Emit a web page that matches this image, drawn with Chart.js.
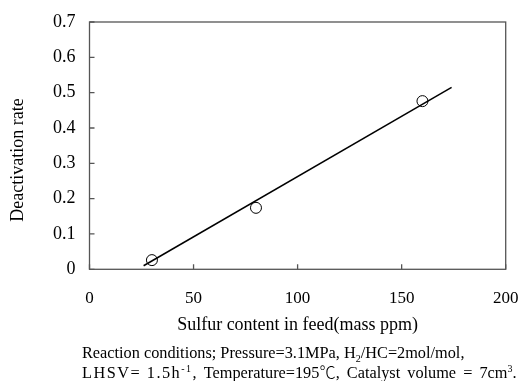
<!DOCTYPE html>
<html>
<head>
<meta charset="utf-8">
<script src="https://cdn.jsdelivr.net/npm/chart.js@4"></script>
<style>
  html, body { margin: 0; padding: 0; background: #fff; }
  #wrap { position: relative; width: 521px; height: 381px; }
  #cap { position: absolute; left: 82px; top: 343px; font: 16.3px "Liberation Serif", serif; line-height: 19px; color: #000; white-space: nowrap; }
  #cap sub, #cap sup { font-size: 10px; line-height: 0; }
  #cap .cjk { font-family: "Noto Sans CJK JP", serif; font-weight: 300; }
  #cap .wide { letter-spacing: 1.5px; }
  #cap .rest { word-spacing: 3px; }
</style>
</head>
<body>
<div id="wrap">
  <canvas id="c" width="521" height="381"></canvas>
  <div id="cap">Reaction conditions; Pressure=3.1MPa, H<sub>2</sub>/HC=2mol/mol,<br><span class="wide">LHSV= 1.5h<sup>-1</sup>, </span><span class="rest">Temperature=195<span class="cjk">℃</span>, Catalyst volume = 7cm<sup>3</sup>.</span></div>
</div>
<script>
const sulfur = [30, 80, 160];
const rate = [0.026, 0.174, 0.476];
const fitX = [26, 174];
const fitY = [0.01, 0.515];
const xTicks = [0, 50, 100, 150, 200];
const yTicks = [0, 0.1, 0.2, 0.3, 0.4, 0.5, 0.6, 0.7];

const serif = '"Liberation Serif", "Times New Roman", serif';

// frame, inward ticks and rotated y title
const framePlugin = {
  id: 'frame',
  afterDraw(chart) {
    const { ctx, chartArea: a, scales } = chart;
    ctx.save();
    ctx.strokeStyle = '#555';
    ctx.lineWidth = 1.3;
    ctx.strokeRect(a.left, a.top, a.right - a.left, a.bottom - a.top);
    ctx.beginPath();
    yTicks.forEach(v => {
      const y = scales.y.getPixelForValue(v);
      ctx.moveTo(a.left, y);
      ctx.lineTo(a.left + 5, y);
    });
    xTicks.forEach(v => {
      const x = scales.x.getPixelForValue(v);
      ctx.moveTo(x, a.bottom);
      ctx.lineTo(x, a.bottom - 5);
    });
    ctx.stroke();
    ctx.fillStyle = '#000';
    ctx.font = '18px ' + serif;
    ctx.textAlign = 'center';
    ctx.textBaseline = 'middle';
    ctx.translate(18, 160);
    ctx.rotate(-Math.PI / 2);
    ctx.fillText('Deactivation rate', 0, 0);
    ctx.restore();
  }
};

new Chart(document.getElementById('c'), {
  type: 'scatter',
  data: {
    datasets: [
      {
        label: 'measured',
        data: sulfur.map((x, i) => ({ x, y: rate[i] })),
        pointStyle: 'circle',
        pointRadius: 5.5,
        pointBorderWidth: 1,
        pointBorderColor: '#000',
        pointBackgroundColor: 'rgba(255,255,255,0)',
        showLine: false
      },
      {
        label: 'fit',
        data: fitX.map((x, i) => ({ x, y: fitY[i] })),
        showLine: true,
        borderColor: '#000',
        borderWidth: 1.5,
        pointRadius: 0
      }
    ]
  },
  options: {
    responsive: false,
    animation: false,
    layout: { padding: { left: 0, right: 15.3, top: 22, bottom: 0 } },
    plugins: { legend: { display: false }, tooltip: { enabled: false } },
    scales: {
      x: {
        type: 'linear',
        min: 0, max: 200,
        afterBuildTicks: s => { s.ticks = xTicks.map(v => ({ value: v })); },
        afterFit: s => { s.height = 111.7; s.paddingLeft = 0; s.paddingRight = 0; },
        grid: { display: false, drawTicks: false },
        border: { display: false },
        ticks: { color: '#000', font: { family: serif, size: 17 }, padding: 19, maxRotation: 0 },
        title: { display: true, text: 'Sulfur content in feed(mass ppm)', color: '#000', font: { family: serif, size: 18 }, padding: { top: 0, bottom: 45 } }
      },
      y: {
        min: 0, max: 0.7,
        afterBuildTicks: s => { s.ticks = yTicks.map(v => ({ value: v })); },
        afterFit: s => { s.width = 89.5; s.paddingTop = 0; s.paddingBottom = 0; },
        grid: { display: false, drawTicks: false },
        border: { display: false },
        ticks: { color: '#000', font: { family: serif, size: 18 }, padding: 14, callback: v => v === 0 ? '0' : v.toFixed(1) }
      }
    }
  },
  plugins: [framePlugin]
});
</script>
</body>
</html>
